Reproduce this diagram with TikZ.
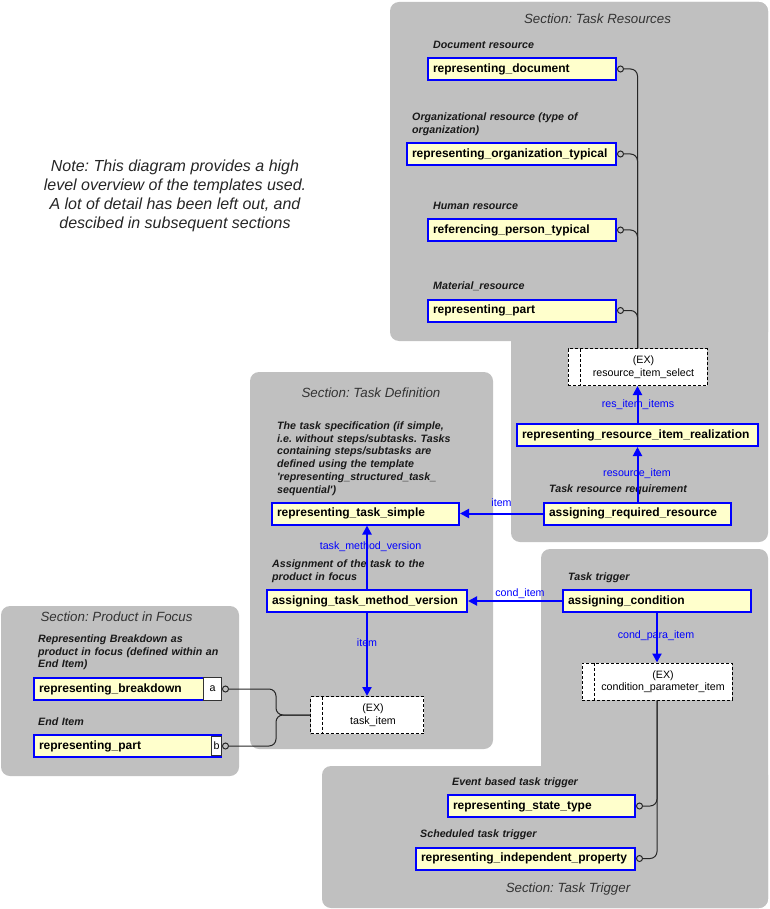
\documentclass[tikz,border=0pt]{standalone}
\usepackage{fontspec}
\setmainfont{Liberation Sans}
\usetikzlibrary{arrows.meta}
\frenchspacing
\definecolor{panelgray}{HTML}{C0C0C0}
\definecolor{tmplfill}{HTML}{FFFFCC}
\definecolor{tmplblue}{HTML}{0000FF}
\tikzset{
	node_base/.style = {
		inner sep=0pt,
		font=\fontsize{10.67}{12.5}\selectfont
	},
	node_tmpl/.style = {
		node_base,
		rectangle,
		draw=tmplblue,
		fill=tmplfill,
		line width=2pt,
		font=\fontsize{12}{14}\selectfont\bfseries,
		inner xsep=5pt,
		text width=#1,
		align=left,
		minimum height=22pt
	},
	node_ex/.style = {
		node_base,
		rectangle,
		draw=black,
		fill=white,
		line width=1pt,
		dash pattern=on 3pt off 2pt,
		minimum width=#1,
		minimum height=37pt,
		path picture={
			\draw [black, line width=1pt, dash pattern=on 3pt off 2pt]
				([xshift=12pt]path picture bounding box.north west) --
				([xshift=12pt]path picture bounding box.south west);
		}
	},
	node_extxt/.style = {
		node_base,
		align=center,
		xshift=6pt
	},
	node_key/.style = {
		node_base,
		rectangle,
		draw=black!80,
		fill=white,
		line width=1pt
	},
	node_lbl/.style = {
		node_base,
		font=\fontsize{10.67}{12.7}\selectfont\bfseries\itshape,
		text=black!90,
		anchor=base west,
		text width=260pt,
		align=left
	},
	node_role/.style = {
		node_base,
		text=tmplblue,
		anchor=base
	},
	node_sect/.style = {
		node_base,
		font=\fontsize{13.33}{16}\selectfont\itshape,
		text=black!80,
		anchor=base
	},
	node_note/.style = {
		node_base,
		font=\fontsize{16}{19}\selectfont\itshape,
		text=black!85,
		align=center
	},
	edge_ref/.style = {
		draw=tmplblue,
		line width=2pt,
		-{Triangle[length=9pt,width=9pt]}
	},
	edge_sel/.style = {
		draw=black!85,
		line width=1pt,
		rounded corners=7pt
	},
	tip_sel/.style = {
		{Circle[open,length=7pt]}-
	},
	tip_sel_end/.style = {
		-{Circle[open,length=7pt]}
	}
}

\begin{document}
\begin{tikzpicture}[x=1pt, y=-1pt]
\useasboundingbox (0,0) rectangle (769,909);

% section panels
\fill [panelgray, rounded corners=9pt] (390,2) rectangle (768,341);
\fill [panelgray, rounded corners=9pt] (511,2) rectangle (768,542);
\fill [panelgray, rounded corners=9pt] (250,372) rectangle (493,749);
\fill [panelgray, rounded corners=9pt] (1,606) rectangle (239,776);
\fill [panelgray, rounded corners=9pt] (541,549) rectangle (768,908);
\fill [panelgray, rounded corners=9pt] (322,766) rectangle (768,908);

\node [node_sect] (secres) at (597.5,23.5) {Section: Task Resources};
\node [node_sect] (secdef) at (371,397.5) {Section: Task Definition};
\node [node_sect] (secpif) at (116.5,621.5) {Section: Product in Focus};
\node [node_sect] (sectrg) at (568,892.5) {Section: Task Trigger};

\node [node_note] (note) at (175,196) {Note: This diagram provides a high\\level overview of the templates used.\\A lot of detail has been left out, and\\descibed in subsequent sections};

% task resources
\node [node_lbl] (ldoc) at (433,48.5) {Document resource};
\node [node_tmpl=178pt] (doc) at (522,69) {representing\_document};
\node [node_lbl] (lorg) at (412,120.5) {Organizational resource (type of\\organization)};
\node [node_tmpl=199pt] (org) at (511.5,154) {representing\_organization\_typical};
\node [node_lbl] (lperson) at (433,209.5) {Human resource};
\node [node_tmpl=178pt] (person) at (522,230) {referencing\_person\_typical};
\node [node_lbl] (lmpart) at (433,289.5) {Material\_resource};
\node [node_tmpl=178pt] (mpart) at (522,310.5) {representing\_part};
\node [node_ex=139pt, label={[node_extxt]center:{(EX)\\resource\_item\_select}}] (ris) at (637.5,367) {};
\node [node_tmpl=231pt] (rrir) at (637.5,435) {representing\_resource\_item\_realization};
\node [node_lbl] (larr) at (549,492.5) {Task resource requirement};
\node [node_tmpl=177pt] (arr) at (637.5,513.5) {assigning\_required\_resource};

% task definition
\node [node_lbl] (lrts) at (277,429.5) {The task specification (if simple,\\i.e. without steps/subtasks. Tasks\\containing steps/subtasks are\\defined using the template\\\textquotesingle representing\_structured\_task\_\\sequential\textquotesingle)};
\node [node_tmpl=177pt] (rts) at (365.5,513.5) {representing\_task\_simple};
\node [node_lbl] (latmv) at (272,567.5) {Assignment of the task to the\\product in focus};
\node [node_tmpl=190pt] (atmv) at (367,601) {assigning\_task\_method\_version};
\node [node_ex=113pt, label={[node_extxt]center:{(EX)\\task\_item}}] (ti) at (367,715) {};

% product in focus
\node [node_lbl] (lbd) at (38,642.5) {Representing Breakdown as\\product in focus (defined within an\\End Item)};
\node [node_tmpl=177pt] (bd) at (127.5,689) {representing\_breakdown};
\node [node_key, minimum width=18pt, minimum height=23pt] (keya) at (212.5,689) {a};
\node [node_lbl] (lppart) at (38,725.5) {End Item};
\node [node_tmpl=177pt] (ppart) at (127.5,746) {representing\_part};
\node [node_key, minimum width=10pt, minimum height=19pt] (keyb) at (216.5,746) {b};
\coordinate (tijoin) at (276,715);

% task trigger
\node [node_lbl] (lac) at (568,580.5) {Task trigger};
\node [node_tmpl=178pt] (ac) at (657,601) {assigning\_condition};
\node [node_ex=150pt, label={[node_extxt]center:{(EX)\\condition\_parameter\_item}}] (cpi) at (657,681.5) {};
\node [node_lbl] (lrst) at (452,785.5) {Event based task trigger};
\node [node_tmpl=177pt] (rst) at (541.5,806) {representing\_state\_type};
\node [node_lbl] (lrip) at (420,837.5) {Scheduled task trigger};
\node [node_tmpl=209pt] (rip) at (525.5,858.5) {representing\_independent\_property};

% select connectors
\draw [edge_sel, tip_sel] (doc.east) -| (ris.north);
\draw [edge_sel, tip_sel] (org.east) -| (ris.north);
\draw [edge_sel, tip_sel] (person.east) -| (ris.north);
\draw [edge_sel, tip_sel] (mpart.east) -| (ris.north);
\draw [edge_sel, tip_sel] (bd.east) -| (tijoin) -- (ti.west);
\draw [edge_sel, tip_sel] (ppart.east) -| (tijoin) -- (ti.west);
\draw [edge_sel, tip_sel_end] (cpi.south) |- (rst.east);
\draw [edge_sel, tip_sel_end] (cpi.south) |- (rip.east);

% reference arrows
\draw [edge_ref] (rrir.north) -- (ris.south);
\draw [edge_ref] (arr.north) -- (rrir.south);
\draw [edge_ref] (arr.west) -- (rts.east);
\draw [edge_ref] (atmv.north) -- (atmv.north |- rts.south);
\draw [edge_ref] (atmv.south) -- (ti.north);
\draw [edge_ref] (ac.west) -- (atmv.east);
\draw [edge_ref] (ac.south) -- (cpi.north);

\node [node_role] (rres) at (638,407.5) {res\_item\_items};
\node [node_role] (rritem) at (637,476.5) {resource\_item};
\node [node_role] (ritem) at (501.5,506.5) {item};
\node [node_role] (rtmv) at (370.5,549.5) {task\_method\_version};
\node [node_role] (rcond) at (520,596.5) {cond\_item};
\node [node_role] (rtitem) at (367,646.5) {item};
\node [node_role] (rcpi) at (656,638.5) {cond\_para\_item};
\end{tikzpicture}
\end{document}
